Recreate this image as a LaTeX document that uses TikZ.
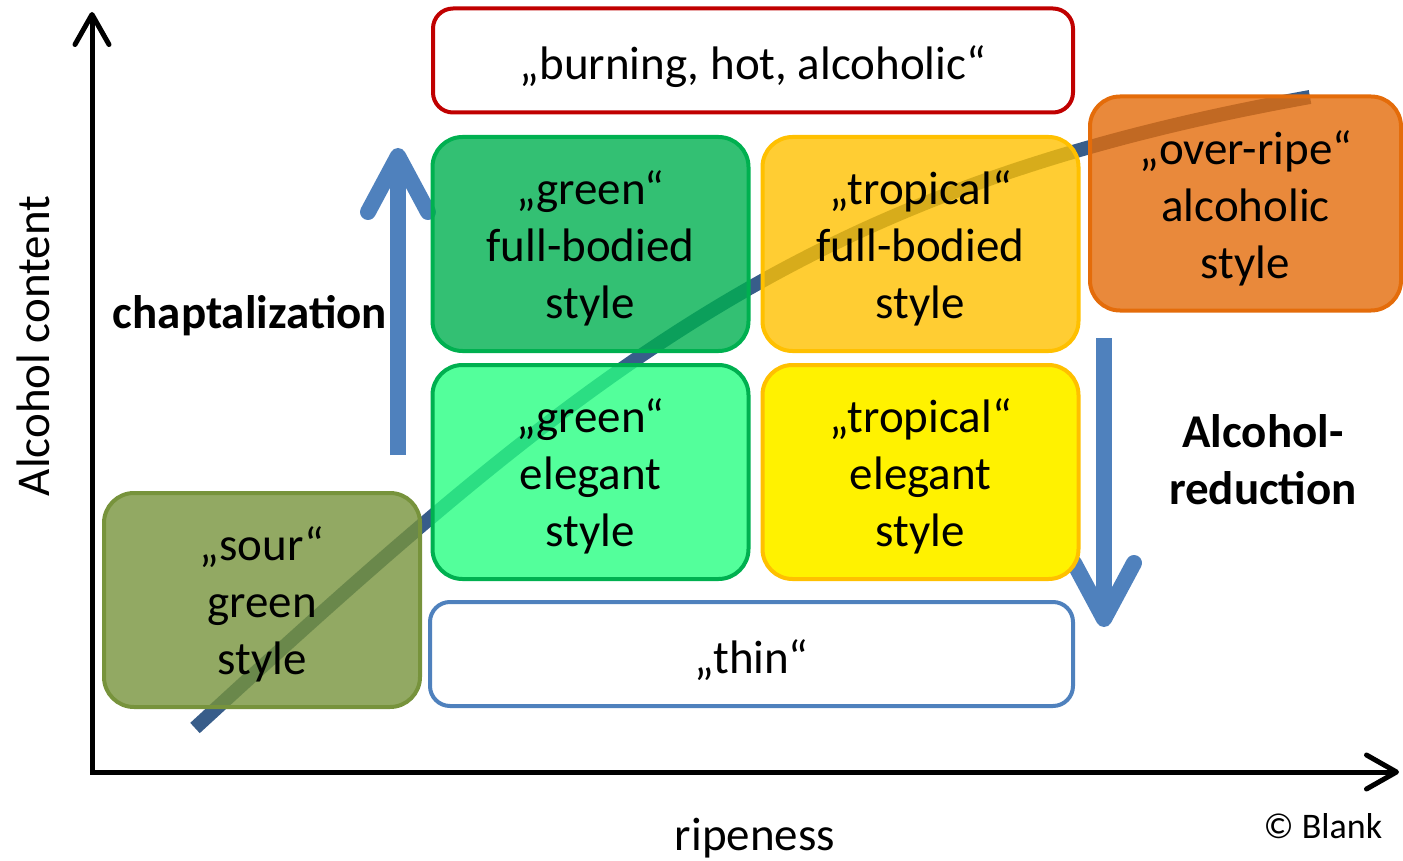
\documentclass[tikz,border=0pt]{standalone}
\usepackage{fontspec}
\setmainfont{Carlito}
\usepackage{tikz}
\usetikzlibrary{arrows.meta,positioning}
\definecolor{arrowblue}{RGB}{79,129,189}
\definecolor{trendblue}{RGB}{56,93,138}
\definecolor{burnred}{RGB}{192,0,0}
\definecolor{leafgreen}{RGB}{0,176,80}
\definecolor{mintgreen}{RGB}{40,255,130}
\definecolor{ambergold}{RGB}{255,192,0}
\definecolor{rustorange}{RGB}{228,108,10}
\definecolor{olivegreen}{RGB}{119,147,60}
\newcommand{\bigtext}{\fontsize{47}{57}\selectfont}

\begin{document}
\begin{tikzpicture}[x=1pt,y=-1pt,
    winebox/.style={
        rectangle,
        rounded corners=30pt,
        minimum width=316pt,
        minimum height=214pt,
        align=center,
        font=\bigtext,
        line width=4pt,
        fill opacity=0.8,
        text opacity=1,
        text height=157pt
    },
    bandbox/.style={
        rectangle,
        rounded corners=20pt,
        minimum height=104pt,
        align=center,
        font=\bigtext,
        line width=4pt,
        fill=white,
        execute at begin node={\rule{0pt}{46pt}}
    },
    axistip/.tip={Straight Barb[length=30pt,width=34pt,line cap=round,line join=round]},
    axisline/.style={axistip-axistip,line width=5pt},
    movearrow/.style={-{Straight Barb[length=56pt,width=60pt,line cap=round,line join=round]},line width=16pt,arrowblue}
]
    \useasboundingbox (0,0) rectangle (1403,861);

    % trend line, behind the boxes
    \coordinate (trendstart) at (195,728);
    \coordinate (trendend) at (1310,97);
    \draw[trendblue, line width=14pt] (trendstart) .. controls (595,360) and (810,187) .. (trendend);

    % axes
    \coordinate (ytop) at (92,12);
    \coordinate (xend) at (1399,772);
    \draw[axisline] (ytop) |- (xend);

    % chaptalization and reduction
    \coordinate (chapfoot) at (398,455);
    \coordinate (chaphead) at (398,148);
    \draw[movearrow] (chapfoot) -- (chaphead);
    \coordinate (redtop) at (1104,338);
    \coordinate (redfoot) at (1104,627);
    \draw[movearrow] (redtop) -- (redfoot);

    % style boxes
    \node[winebox, fill=leafgreen, draw=leafgreen] (greenfull) at (590.5,244) {„green“\\full-bodied\\style};
    \node[winebox, fill=ambergold, draw=ambergold, right=10pt of greenfull] (tropfull) {„tropical“\\full-bodied\\style};
    \node[winebox, fill=mintgreen, draw=leafgreen, below=10pt of greenfull] (greenel) {„green“\\elegant\\style};
    \node[winebox, fill=yellow, fill opacity=1, draw=ambergold, below=10pt of tropfull] (tropel) {„tropical“\\elegant\\style};
    \node[winebox, fill=rustorange, draw=rustorange, minimum width=311pt] (overripe) at (1245.5,203.5) {„over-ripe“\\alcoholic\\style};
    \node[winebox, fill=olivegreen, draw=olivegreen] (sour) at (262,600) {„sour“\\green\\style};
    \node[bandbox, draw=burnred, minimum width=640pt] (burning) at (753,60.5) {„burning, hot, alcoholic“};
    \node[bandbox, draw=arrowblue, minimum width=643pt] (thin) at (751.5,654) {„thin“};

    % labels
    \node[font=\bigtext, rotate=90] (alclabel) at (33,346) {Alcohol content};
    \node[font=\bigtext] (ripelabel) at (755,838) {ripeness};
    \node[font=\fontsize{36}{43}\selectfont] (copyright) at (1323,826) {© Blank};
    \node[font=\bigtext\bfseries] (chaplabel) at (250,316) {chaptalization};
    \node[font=\bigtext\bfseries, align=center] (redlabel) at (1263,460) {Alcohol-\\reduction};
\end{tikzpicture}
\end{document}
